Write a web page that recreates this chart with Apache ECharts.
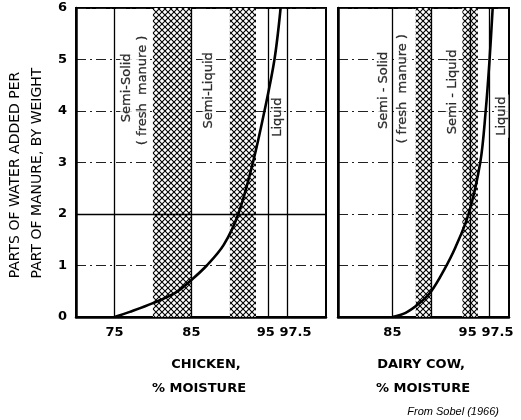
<!DOCTYPE html>
<html><head><meta charset="utf-8">
<script src="https://cdn.jsdelivr.net/npm/echarts@6/dist/echarts.min.js"></script>
<style>html,body{margin:0;padding:0;background:#fff}#c{width:521px;height:420px}</style>
</head><body><div id="c"></div>
<script>
// ---- data ----
const yTicks = [0, 1, 2, 3, 4, 5, 6];
const chickenTicks = [75, 85, 95, 97.5];
const cowTicks = [85, 95, 97.5];
const chickenX = [75, 77, 80, 83, 85, 87, 89.2, 91.1, 93.0, 94.5, 95.8, 96.6];
const chickenY = [0, 0.1, 0.27, 0.48, 0.72, 1.0, 1.4, 2.0, 3.0, 4.0, 5.0, 6.0];
const cowX = [85, 86.7, 88.5, 90, 91.6, 93.1, 94.8, 96.3, 97.0, 97.5, 97.9];
const cowY = [0, 0.08, 0.27, 0.5, 0.9, 1.35, 2.0, 3.0, 4.0, 5.0, 6.0];
const chickenBands = [[80, 85], [90, 93.4]];
const cowBands = [[88, 90], [94, 96]];
const chickenLines = [75, 85, 95, 97.5];
const cowLines = [85, 90, 95, 97.5];
const chickenLabels = [['Semi-Solid', 76.6, 4.45], ['( fresh  manure )', 78.6, 4.4], ['Semi-Liquid', 87.3, 4.4], ['Liquid', 96.2, 3.88]];
const cowLabels = [['Semi - Solid', 83.85, 4.4], ['( fresh  manure )', 86.3, 4.43], ['Semi - Liquid', 92.7, 4.37], ['Liquid', 99.1, 3.9]];

// ---- hatch pattern ----
function hatch(s, w) {
  const c = document.createElement('canvas');
  c.width = s; c.height = s;
  const g = c.getContext('2d');
  g.fillStyle = '#fff'; g.fillRect(0, 0, s, s);
  g.strokeStyle = '#000'; g.lineWidth = w;
  g.beginPath();
  g.moveTo(-1, -1); g.lineTo(s + 1, s + 1);
  g.moveTo(-1, s + 1); g.lineTo(s + 1, -1);
  g.stroke();
  return c;
}
const pat = { image: hatch(6, 1.1), repeat: 'repeat' };

const chart = echarts.init(document.getElementById('c'), null, { renderer: 'canvas' });
const tickFont = { fontFamily: 'DejaVu Sans', fontWeight: 'bold', fontSize: 13, color: '#000' };
const labFont = 'DejaVu Sans';

function xAxisCfg(idx, min, max, ticks, shifts) {
  return {
    type: 'value', gridIndex: idx, min: min, max: max,
    axisLine: { show: true, onZero: false, lineStyle: { color: '#000', width: 2.5 } },
    axisTick: { show: false },
    splitLine: { show: false },
    axisLabel: Object.assign({}, tickFont, {
      customValues: ticks, margin: 9,
      formatter: v => (shifts[v] ? '{' + shifts[v] + '|' + v + '}' : '' + v),
      rich: {
        r: Object.assign({}, tickFont, { padding: [0, 0, 0, 16] }),
        l: Object.assign({}, tickFont, { padding: [0, 5, 0, 0] })
      }
    })
  };
}
function yAxisCfg(idx, showLabel) {
  return {
    type: 'value', gridIndex: idx, min: 0, max: 6, interval: 1,
    axisLine: { show: true, lineStyle: { color: '#000', width: 2.5 } },
    axisTick: { show: false },
    axisLabel: Object.assign({ show: showLabel, margin: 9 }, tickFont),
    splitLine: { show: true, lineStyle: { color: '#222', width: 1, type: [10, 4, 2, 4] } }
  };
}
function bandSeries(xi, bands, lines, extraY) {
  const ml = lines.map(v => ({ xAxis: v }));
  extraY.forEach(v => ml.push({ yAxis: v }));
  return {
    type: 'line', xAxisIndex: xi, yAxisIndex: xi, data: [], z: 1, silent: true,
    markArea: { silent: true, itemStyle: { color: pat, borderWidth: 0 }, data: bands.map(b => [{ xAxis: b[0] }, { xAxis: b[1] }]) },
    markLine: { silent: true, symbol: 'none', label: { show: false }, animation: false,
      lineStyle: { color: '#000', width: 1.3, type: 'solid' }, data: ml }
  };
}
function curve(xi, xs, ys) {
  return {
    type: 'line', xAxisIndex: xi, yAxisIndex: xi, z: 5, showSymbol: false, symbol: 'none',
    smooth: 0.35,
    lineStyle: { color: '#000', width: 2.6 },
    data: xs.map((x, i) => [x, ys[i]])
  };
}
function textSeries(xi, labels) {
  return {
    type: 'scatter', xAxisIndex: xi, yAxisIndex: xi, z: 6, symbolSize: 0, silent: true,
    data: labels.map(l => ({ value: [l[1], l[2]], name: l[0] })),
    label: { show: true, position: 'inside', rotate: 90, formatter: p => p.name,
      fontFamily: labFont, fontSize: 13, color: '#000', textBorderWidth: 0.3, textBorderColor: '#000', align: 'center', verticalAlign: 'middle',
      backgroundColor: '#fff', padding: [0, 2] }
  };
}

const option = {
  animation: false,
  backgroundColor: '#fff',
  grid: [
    { left: 76, top: 8, width: 250, height: 309, show: true, borderColor: '#000', borderWidth: 2 },
    { left: 338, top: 8, width: 171, height: 309, show: true, borderColor: '#000', borderWidth: 2 }
  ],
  xAxis: [xAxisCfg(0, 70, 102.5, chickenTicks, { 95: 'l', 97.5: 'r' }), xAxisCfg(1, 78, 100, cowTicks, { 95: 'l', 97.5: 'r' })],
  yAxis: [yAxisCfg(0, true), yAxisCfg(1, false)],
  series: [
    bandSeries(0, chickenBands, chickenLines, [2]),
    bandSeries(1, cowBands, cowLines, []),
    curve(0, chickenX, chickenY),
    curve(1, cowX, cowY),
    textSeries(0, chickenLabels),
    textSeries(1, cowLabels)
  ],
  graphic: [
    { type: 'text', x: 15, y: 175, rotation: Math.PI / 2, style: { text: 'PARTS OF WATER ADDED PER', fontFamily: labFont, fontSize: 14, fill: '#000', textAlign: 'center', textVerticalAlign: 'middle' } },
    { type: 'text', x: 37, y: 173, rotation: Math.PI / 2, style: { text: 'PART OF MANURE, BY WEIGHT', fontFamily: labFont, fontSize: 14, fill: '#000', textAlign: 'center', textVerticalAlign: 'middle' } },
    { type: 'text', x: 206, y: 365, style: { text: 'CHICKEN,', fontFamily: labFont, fontWeight: 'bold', fontSize: 13, fill: '#000', textAlign: 'center', textVerticalAlign: 'middle' } },
    { type: 'text', x: 199, y: 389, style: { text: '% MOISTURE', fontFamily: labFont, fontWeight: 'bold', fontSize: 13, fill: '#000', textAlign: 'center', textVerticalAlign: 'middle' } },
    { type: 'text', x: 421, y: 365, style: { text: 'DAIRY COW,', fontFamily: labFont, fontWeight: 'bold', fontSize: 13, fill: '#000', textAlign: 'center', textVerticalAlign: 'middle' } },
    { type: 'text', x: 423, y: 389, style: { text: '% MOISTURE', fontFamily: labFont, fontWeight: 'bold', fontSize: 13, fill: '#000', textAlign: 'center', textVerticalAlign: 'middle' } },
    { type: 'text', x: 499, y: 412, style: { text: 'From Sobel (1966)', fontFamily: 'Liberation Sans', fontStyle: 'italic', fontSize: 11, fill: '#000', textAlign: 'right', textVerticalAlign: 'middle' } }
  ]
};
chart.setOption(option);
</script></body></html>
